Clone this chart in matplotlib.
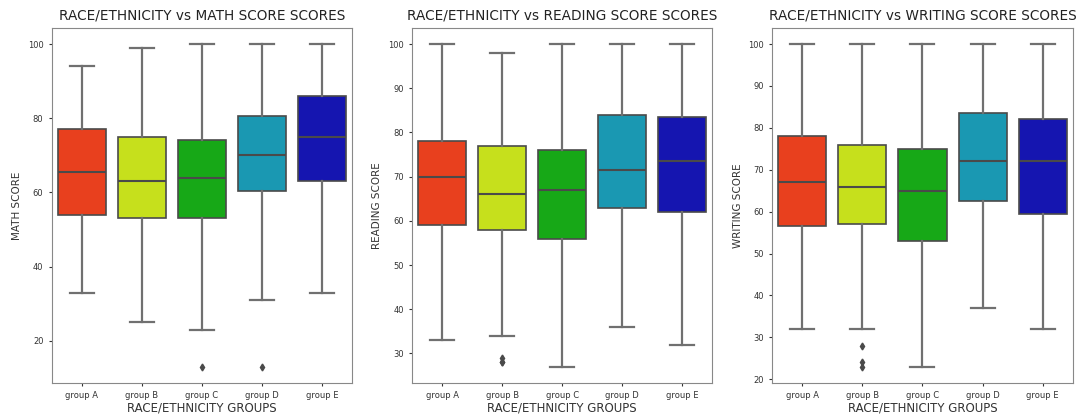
import matplotlib
matplotlib.use("Agg")
import matplotlib.pyplot as plt

groups = ["group A", "group B", "group C", "group D", "group E"]
box_colors = ["#e8401e", "#c6e01c", "#17a817", "#1a98b2", "#1515b0"]

subjects = ["MATH SCORE", "READING SCORE", "WRITING SCORE"]

# five-number summaries per group (lower whisker, Q1, median, Q3, upper whisker)
math_whislo = [33, 25, 23, 31, 33]
math_q1 = [54, 53, 53, 60.5, 63]
math_med = [65.5, 63, 64, 70, 75]
math_q3 = [77, 75, 74, 80.5, 86]
math_whishi = [94, 99, 100, 100, 100]
math_fliers = [[], [], [13], [13], []]

read_whislo = [33, 34, 27, 36, 32]
read_q1 = [59, 58, 56, 63, 62]
read_med = [70, 66, 67, 71.5, 73.5]
read_q3 = [78, 77, 76, 84, 83.5]
read_whishi = [100, 98, 100, 100, 100]
read_fliers = [[], [29, 28, 28], [], [], []]

write_whislo = [32, 32, 23, 37, 32]
write_q1 = [56.5, 57, 53, 62.5, 59.5]
write_med = [67, 66, 65, 72, 72]
write_q3 = [78, 76, 75, 83.5, 82]
write_whishi = [100, 100, 100, 100, 100]
write_fliers = [[], [28, 24, 23], [], [], []]

tables = [
    (math_whislo, math_q1, math_med, math_q3, math_whishi, math_fliers),
    (read_whislo, read_q1, read_med, read_q3, read_whishi, read_fliers),
    (write_whislo, write_q1, write_med, write_q3, write_whishi, write_fliers),
]

line_col = "#4a4a4a"

fig, axes = plt.subplots(1, 3, figsize=(10.78, 4.17), dpi=100)
fig.subplots_adjust(left=0.048, right=0.995, bottom=0.082, top=0.933, wspace=0.2)

for ax, subj, (lo, q1, med, q3, hi, fl) in zip(axes, subjects, tables):
    stats = []
    for i, g in enumerate(groups):
        stats.append({"label": g, "whislo": lo[i], "q1": q1[i], "med": med[i],
                      "q3": q3[i], "whishi": hi[i], "fliers": fl[i]})
    bp = ax.bxp(stats, positions=range(len(groups)), widths=0.8,
                patch_artist=True, showfliers=True,
                boxprops=dict(edgecolor=line_col, linewidth=1.2),
                whiskerprops=dict(color="#707070", linewidth=1.6),
                capprops=dict(color="#707070", linewidth=1.6),
                medianprops=dict(color=line_col, linewidth=1.5),
                flierprops=dict(marker="d", markerfacecolor=line_col,
                                markeredgecolor=line_col, markersize=3.5))
    for patch, c in zip(bp["boxes"], box_colors):
        patch.set_facecolor(c)
    for cap in bp["caps"]:
        x0, x1 = cap.get_xdata()
        mid = (x0 + x1) / 2
        cap.set_xdata([mid - 0.2, mid + 0.2])

    ax.set_xlim(-0.5, len(groups) - 0.5)
    allv = lo + hi + [v for f in fl for v in f]
    vmin, vmax = min(allv), max(allv)
    pad = (vmax - vmin) * 0.05
    ax.set_ylim(vmin - pad, vmax + pad)
    ax.set_xticks(range(len(groups)))
    ax.set_xticklabels(groups)
    ax.tick_params(axis="both", labelsize=6, colors="#333333", length=2.5)
    ax.set_title(f"RACE/ETHNICITY vs {subj} SCORES", fontsize=9.8, color="#222222")
    ax.set_xlabel("RACE/ETHNICITY GROUPS", fontsize=8.5, color="#333333", labelpad=1)
    ax.set_ylabel(subj, fontsize=7.5, color="#333333")
    for sp in ax.spines.values():
        sp.set_color("#888888")

fig.savefig("out.png", dpi=100)
